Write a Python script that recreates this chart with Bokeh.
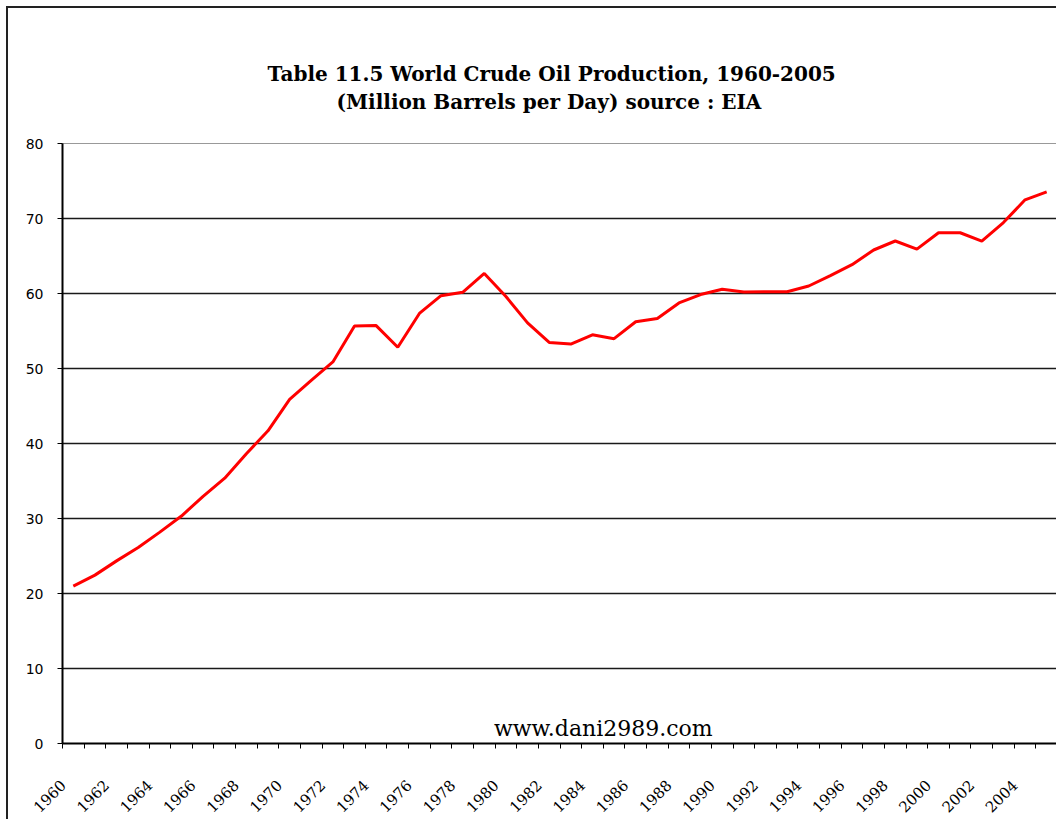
import math
from bokeh.plotting import figure
from bokeh.models import FixedTicker, Range1d, Label, Title
from bokeh.embed import file_html
from bokeh.resources import INLINE

years = list(range(1960, 2006))
production = [20.99, 22.45, 24.35, 26.13, 28.18, 30.33, 32.96, 35.38, 38.63, 41.69,
              45.89, 48.43, 50.87, 55.68, 55.72, 52.83, 57.34, 59.71, 60.16, 62.67,
              59.60, 56.08, 53.48, 53.26, 54.49, 53.98, 56.23, 56.66, 58.74, 59.86,
              60.57, 60.21, 60.22, 60.24, 61.00, 62.38, 63.84, 65.80, 67.00, 65.92,
              68.10, 68.10, 66.99, 69.46, 72.49, 73.54]
label_years = list(range(1960, 2005, 2))
y_ticks = [0, 10, 20, 30, 40, 50, 60, 70, 80]
title_line1 = "Table 11.5  World Crude Oil Production, 1960-2005"
title_line2 = "(Million Barrels per Day) source : EIA"
watermark = "www.dani2989.com"

LABEL_SHIFT = 0.47
label_pos = [y - LABEL_SHIFT for y in label_years]

p = figure(width=1050, height=813, output_backend="svg", toolbar_location=None,
           x_range=Range1d(1959.5, 2005.5), y_range=Range1d(0, 80),
           min_border_left=54, min_border_right=1, min_border_top=135, min_border_bottom=78)
p.styles = {"margin": "6px 0 0 6px", "border-left": "2px solid #222",
            "border-top": "2px solid #222"}
p.background_fill_color = "white"
p.border_fill_color = "white"
p.outline_line_color = "#999999"
p.outline_line_width = 1

title_style = dict(align="left", text_font="DejaVu Serif", text_font_style="bold",
                   text_font_size="20px", text_color="black")
# line 1 (the plot title is always outermost)
p.title.text = title_line1
for k, v in title_style.items():
    setattr(p.title, k, v)
p.title.offset = 205
p.title.standoff = 4
# spacer next to the plot frame (first added = closest to frame)
p.add_layout(Title(text=" ", standoff=4, **title_style), "above")
# line 2
p.add_layout(Title(text=title_line2, standoff=0, offset=274, **title_style), "above")

p.line(years, production, line_color="#ff0000", line_width=3)

# axes
p.xaxis.ticker = FixedTicker(ticks=label_pos,
                             minor_ticks=[y - 0.5 for y in years] + [2005.5])
p.xaxis.major_label_overrides = {pos: str(y) for pos, y in zip(label_pos, label_years)}
p.xaxis.major_tick_line_color = None
p.xaxis.major_tick_out = 5
p.xaxis.major_tick_in = 0
p.xaxis.minor_tick_line_color = "black"
p.xaxis.minor_tick_out = 5
p.xaxis.minor_tick_in = 0
p.xaxis.minor_tick_line_width = 1
p.xaxis.axis_line_color = "black"
p.xaxis.axis_line_width = 2
p.xaxis.major_label_orientation = math.pi / 4
p.xaxis.major_label_text_font = "DejaVu Serif"
p.xaxis.major_label_text_font_size = "15px"
p.xaxis.major_label_text_color = "black"
p.xaxis.major_label_standoff = 34

p.yaxis.ticker = FixedTicker(ticks=y_ticks)
p.yaxis.minor_tick_line_color = None
p.yaxis.major_tick_out = 5
p.yaxis.major_tick_in = 0
p.yaxis.major_tick_line_color = "black"
p.yaxis.axis_line_color = "black"
p.yaxis.axis_line_width = 2
p.yaxis.major_label_text_font = "DejaVu Sans"
p.yaxis.major_label_text_font_size = "14px"
p.yaxis.major_label_text_color = "black"
p.yaxis.major_label_standoff = 14

p.xgrid.grid_line_color = None
p.ygrid.ticker = FixedTicker(ticks=y_ticks[1:-1])
p.ygrid.grid_line_color = "#1a1a1a"
p.ygrid.grid_line_width = 1.5

p.add_layout(Label(x=1984.5, y=2.0, text=watermark, text_align="center",
                   text_baseline="alphabetic", text_font="DejaVu Serif",
                   text_font_size="22px", text_color="black"))

open("out.html", "w").write(file_html(p, INLINE))
